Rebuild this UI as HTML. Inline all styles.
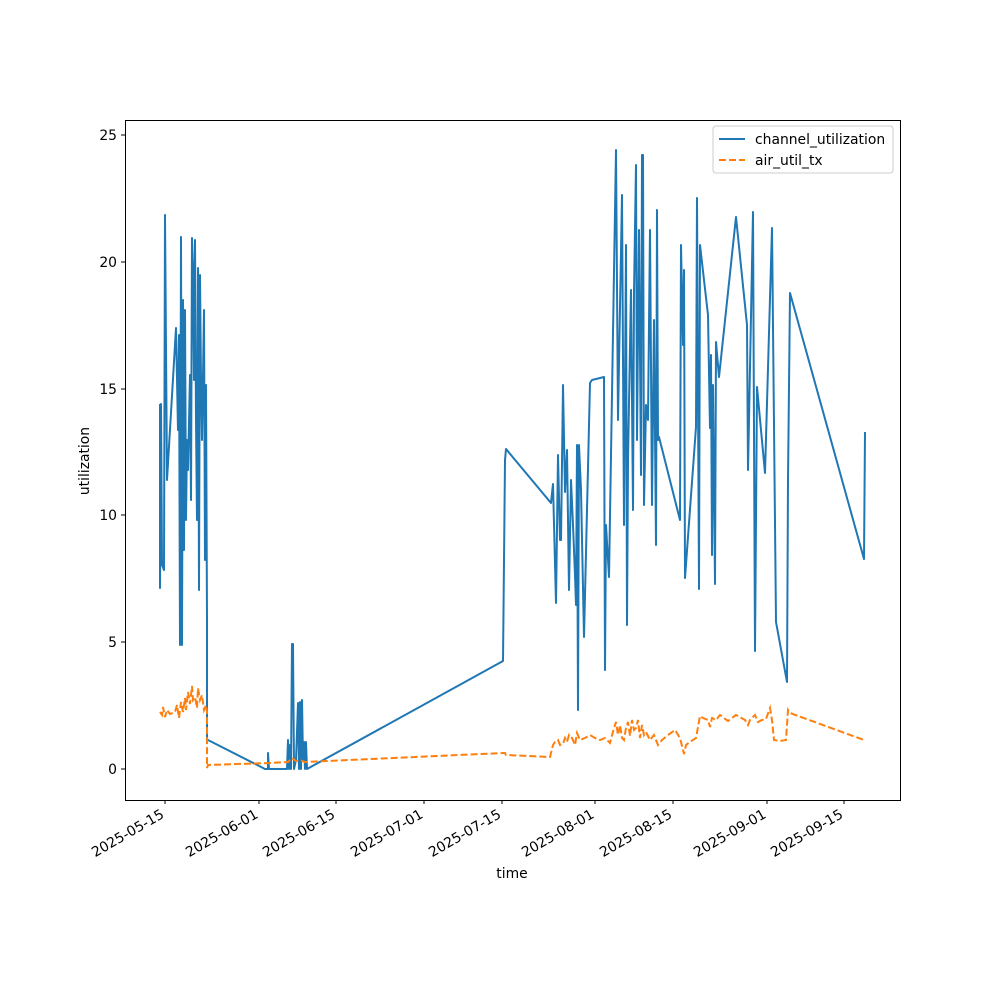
<!DOCTYPE html>
<html><head><style>body{margin:0;background:#fff}svg{display:block}</style></head><body>
<svg width="1000" height="1000" viewBox="0 0 1000 1000" font-family="DejaVu Sans, Liberation Sans, sans-serif" font-size="13.9">
<rect width="1000" height="1000" fill="#fff"/>
<defs><clipPath id="c"><rect x="125" y="120" width="775" height="680"/></clipPath></defs>
<g clip-path="url(#c)">
<polyline fill="none" stroke="#1f77b4" stroke-width="2" stroke-linejoin="round" points="160,404 160,588 161,404 162,565 164,570 165,215 167,480 176,328 178,430 179,335 180,645 181,237 182,645 183,300 184,550 185,310 186,520 187,440 188,470 190,375 191,500 192,238 193,270 194,380 195,240 196,420 197,520 198,268 199,590 200,275 201,380 202,440 204,310 205,560 206,385 207,620 207,665 207,740 208,740 265,769 268,769 268,753 269,769 287,769 288,740 289,769 290,745 291,769 292,644 293,644 294,769 296,760 298,703 299,769 300,702 301,769 302,700 303,760 304,742 305,769 306,742 307,769 503,661 505,460 506,449 551,503 553,484 556,603 558,455 560,540 561,540 563,385 565,492 567,450 569,590 571,480 573,525 575,575 576,605 577,445 578,710 579,445 581,490 584,637 590,383 592,380 604,377 605,670 606,525 609,577 616,150 618,420 622,195 624,525 626,245 627,625 628,460 631,290 633,510 634,292 636,165 637,440 639,230 641,475 642,155 643,155 644,505 646,405 648,420 650,230 652,505 654,320 656,545 657,210 658,440 659,437 680,520 681,245 683,345 684,270 685,578 696,427 697,198 699,589 700,245 708,315 710,428 711,355 712,555 713,385 715,584 716,342 719,377 736,217 747,325 748,470 749,420 753,212 755,651 757,387 765,473 772,228 776,622 787,682 788,480 790,293 864,559 865,432"/>
<polyline fill="none" stroke="#ff7f0e" stroke-width="2" stroke-dasharray="7,3" points="160,712 162,715 163,707 165,717 167,710 170,714 175,712 177,705 179,718 181,702 183,712 185,698 186,710 188,692 190,704 192,686 193,700 195,697 197,708 198,688 200,700 202,695 204,710 206,705 207,712 207,768 208,765 270,763 288,762 292,758 296,761 300,760 305,762 503,753 505,753 506,755 550,757 553,745 555,742 558,740 560,745 563,744 565,738 567,742 569,735 572,738 575,745 577,733 580,740 585,738 590,735 595,738 600,740 605,738 610,743 614,728 616,722 618,735 620,725 622,738 624,740 626,728 628,722 630,736 632,720 634,730 636,728 638,720 640,738 642,725 644,735 646,732 650,740 654,735 658,745 662,740 668,735 675,730 680,738 684,754 686,745 690,742 696,738 700,716 703,718 708,720 710,727 712,718 716,720 720,715 728,721 736,715 745,720 748,725 750,720 755,715 758,722 762,720 766,719 770,708 772,720 774,740 780,741 786,740 788,710 790,713 864,740"/>
</g>
<rect x="125.5" y="120.5" width="775" height="680" fill="none" stroke="#000" stroke-width="1"/>
<g stroke="#000">
<line x1="125" y1="769" x2="121" y2="769"/><line x1="125" y1="642" x2="121" y2="642"/><line x1="125" y1="515" x2="121" y2="515"/><line x1="125" y1="389" x2="121" y2="389"/><line x1="125" y1="262" x2="121" y2="262"/><line x1="125" y1="135" x2="121" y2="135"/>
<line x1="165" y1="800" x2="165" y2="804"/><line x1="259" y1="800" x2="259" y2="804"/><line x1="336" y1="800" x2="336" y2="804"/><line x1="424" y1="800" x2="424" y2="804"/><line x1="502" y1="800" x2="502" y2="804"/><line x1="595" y1="800" x2="595" y2="804"/><line x1="673" y1="800" x2="673" y2="804"/><line x1="767" y1="800" x2="767" y2="804"/><line x1="844" y1="800" x2="844" y2="804"/>
</g>
<g text-anchor="end">
<text x="117" y="774">0</text><text x="117" y="647">5</text><text x="117" y="520">10</text><text x="117" y="394">15</text><text x="117" y="267">20</text><text x="117" y="140">25</text>
</g>
<g text-anchor="end">
<text transform="translate(165,817) rotate(-30)">2025-05-15</text>
<text transform="translate(259,817) rotate(-30)">2025-06-01</text>
<text transform="translate(336,817) rotate(-30)">2025-06-15</text>
<text transform="translate(424,817) rotate(-30)">2025-07-01</text>
<text transform="translate(502,817) rotate(-30)">2025-07-15</text>
<text transform="translate(595,817) rotate(-30)">2025-08-01</text>
<text transform="translate(673,817) rotate(-30)">2025-08-15</text>
<text transform="translate(767,817) rotate(-30)">2025-09-01</text>
<text transform="translate(844,817) rotate(-30)">2025-09-15</text>
</g>
<text x="512" y="878" text-anchor="middle">time</text>
<text transform="translate(89,461) rotate(-90)" text-anchor="middle">utilization</text>
<rect x="713" y="126" width="180" height="47" rx="3" fill="#fff" stroke="#ccc"/>
<line x1="719" y1="139" x2="745" y2="139" stroke="#1f77b4" stroke-width="2"/>
<text x="755" y="144">channel_utilization</text>
<line x1="719" y1="160" x2="745" y2="160" stroke="#ff7f0e" stroke-width="2" stroke-dasharray="7,3"/>
<text x="755" y="165">air_util_tx</text>
</svg>
</body></html>
